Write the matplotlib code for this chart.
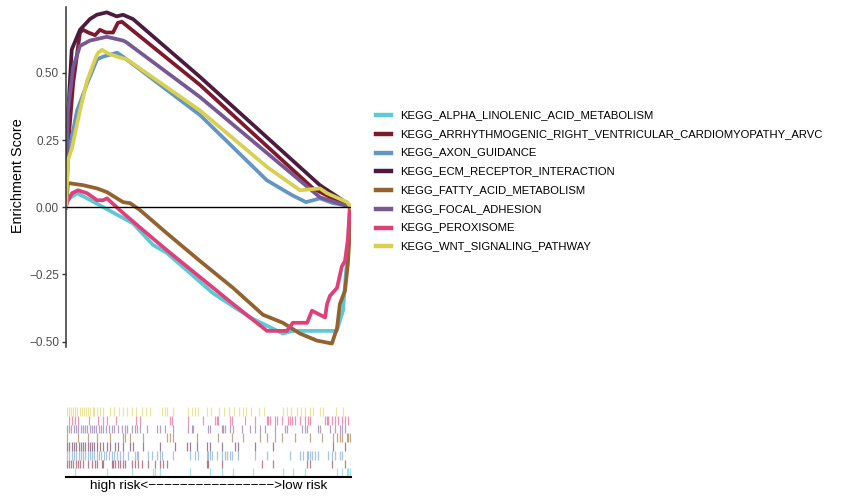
import matplotlib
matplotlib.use('Agg')
import matplotlib.pyplot as plt
from matplotlib.lines import Line2D

plt.rcParams['font.family'] = ['Liberation Sans', 'DejaVu Sans']

# gene sets, in legend order (also drawing order)
gene_sets = ['KEGG_ALPHA_LINOLENIC_ACID_METABOLISM',
             'KEGG_ARRHYTHMOGENIC_RIGHT_VENTRICULAR_CARDIOMYOPATHY_ARVC',
             'KEGG_AXON_GUIDANCE',
             'KEGG_ECM_RECEPTOR_INTERACTION',
             'KEGG_FATTY_ACID_METABOLISM',
             'KEGG_FOCAL_ADHESION',
             'KEGG_PEROXISOME',
             'KEGG_WNT_SIGNALING_PATHWAY']
colors = ['#5BCAD6', '#7E1A2E', '#6496C4', '#4B1C3F',
          '#93622F', '#765893', '#E0407A', '#D8D050']

# running enrichment score, x = position in ranked list (%)
alpha_x = [0, 0.2, 3.9, 7.4, 11.9, 23.5, 30.5, 35.4, 51.6, 64.6, 76.1, 79.6, 95, 97.2, 98.9, 99.6, 100]
alpha_y = [0, 0.026, 0.052, 0.033, 0.007, -0.06, -0.14, -0.17, -0.32, -0.41, -0.47, -0.46, -0.46, -0.385, -0.15, 0, 0]

arvc_x = [0, 0.8, 2.5, 4.9, 6, 7.8, 10.2, 11.9, 14, 16.5, 18.2, 19.6, 47, 86.7, 96, 100]
arvc_y = [0, 0.24, 0.46, 0.65, 0.66, 0.65, 0.64, 0.66, 0.65, 0.65, 0.686, 0.69, 0.455, 0.07, 0.02, 0]

axon_x = [0, 0.7, 3.9, 7.4, 10.9, 13, 17.9, 20, 47, 70.5, 79.3, 84.2, 89.1, 93.7, 98.6, 100]
axon_y = [0, 0.19, 0.36, 0.46, 0.55, 0.56, 0.575, 0.56, 0.343, 0.10, 0.045, 0.019, 0.033, 0.015, 0.007, 0]

ecm_x = [0, 0.5, 2, 4.9, 8.4, 10.8, 14.3, 17.8, 20, 23.5, 47, 89.1, 97.9, 100]
ecm_y = [0, 0.30, 0.586, 0.66, 0.70, 0.716, 0.725, 0.71, 0.716, 0.70, 0.485, 0.082, 0.02, 0]

fatty_x = [0, 0.7, 6, 10.9, 14.4, 20, 22.5, 26, 35.4, 47, 58.6, 69.1, 76.1, 82.1, 88, 93.3, 95.1, 96.1, 97.9, 98.9, 99.6, 100]
fatty_y = [0, 0.09, 0.082, 0.07, 0.056, 0.019, 0.015, -0.011, -0.097, -0.2, -0.30, -0.40, -0.43, -0.47, -0.496, -0.507, -0.45, -0.36, -0.31, -0.21, -0.086, 0]

focal_x = [0, 0.7, 2.5, 4.9, 8.4, 14.3, 20, 21, 47, 89.1, 97, 100]
focal_y = [0, 0.36, 0.52, 0.60, 0.62, 0.634, 0.62, 0.615, 0.41, 0.037, 0.01, 0]

perox_x = [0, 0.4, 2.1, 4.2, 7.4, 10.9, 13, 14.4, 18.9, 25.9, 35.4, 47, 58.6, 70.5, 77.5, 79.6, 84.6, 86.3, 90.9, 91.6, 92.6, 95.1, 96.8, 97.9, 98.9, 99.6, 100]
perox_y = [0, 0.02, 0.052, 0.063, 0.052, 0.026, 0.026, 0.033, -0.011, -0.075, -0.16, -0.26, -0.36, -0.46, -0.46, -0.43, -0.43, -0.385, -0.41, -0.36, -0.33, -0.30, -0.22, -0.2, -0.12, 0, 0]

wnt_x = [0, 0.7, 2.1, 4.9, 7.4, 10.2, 11.2, 12.6, 14.4, 17.9, 21.4, 47, 70.5, 82.1, 89.1, 91.6, 98.6, 100]
wnt_y = [0, 0.175, 0.22, 0.36, 0.47, 0.55, 0.574, 0.586, 0.574, 0.56, 0.55, 0.36, 0.15, 0.063, 0.07, 0.052, 0.019, 0]

# hit positions for the rug (%)
alpha_hits = [3.2, 14.3, 23, 30.6, 31.2, 33, 43.5, 50.5, 54.6, 58.7, 65.7, 76.2, 79.7, 83.9,
              95, 96.7, 98.5, 99, 99.6]
arvc_hits = [0.3, 1, 1.8, 2.6, 3.4, 4.2, 5, 5.8, 7.8, 9, 10.2, 10.8, 12.5, 13.1, 16, 16.6, 17.2,
             18.4, 18.9, 20.1, 20.7, 23, 24.2, 25.4, 26.6, 28.9, 31.2, 33, 34.1, 35.3, 49.4,
             49.9, 54.6, 68.7, 72.7, 84.4, 85.6, 93.2, 97.9]
axon_hits = [0.3, 1.2, 2, 2.8, 3.6, 4.4, 5.2, 6, 6.8, 7.6, 8.4, 9.2, 10, 10.8, 11.6, 12.4, 13.2,
             14, 15, 16, 17, 18, 19, 20, 21.9, 24.2, 24.8, 25.4, 28.9, 30.1, 31.8, 33, 33.6,
             37.6, 43.5, 45.3, 46.4, 49.4, 49.9, 50.5, 51.1, 52.9, 54.6, 55.8, 56.4, 57.5,
             58.1, 60.5, 66.3, 70.4, 78.6, 82.1, 83.3, 84.4, 85, 85.6, 86.2, 87.4, 88.5, 92,
             93.2, 94.4, 96.1, 96.7]
ecm_hits = [0.3, 1.2, 2, 2.8, 3.6, 4.4, 5.2, 6, 6.8, 7.6, 8.4, 9.2, 10, 11, 12, 13, 14.3, 15.4,
            17.2, 18.4, 20.1, 22.5, 23.6, 27.1, 33, 38.2, 42.3, 43.5, 45.9, 49.4, 50.5, 54.6,
            59.3, 60.5, 66.3, 72.7, 93.8, 97.9]
fatty_hits = [0.5, 4.3, 7.8, 10.8, 15.4, 20.1, 20.7, 22.5, 27.1, 35.3, 36.5, 37.6, 45.9, 53.4,
              58.1, 62.2, 68.1, 70.4, 73.3, 75.7, 80.4, 85.6, 89.7, 93.8, 95, 96.1, 96.7,
              98.5, 99, 99.6]
focal_hits = [0.3, 1.1, 1.9, 2.7, 3.5, 4.3, 5.1, 5.9, 6.7, 7.5, 8.3, 9.1, 9.9, 10.7, 11.5,
              12.3, 13.1, 14, 15, 16, 17, 18.2, 19.5, 20.7, 21.3, 23, 24.2, 24.8, 26, 28.3,
              31.8, 33, 34.7, 37.6, 42.9, 44.1, 44.7, 49.9, 50.5, 54.6, 55.2, 55.8, 57.5,
              58.7, 61.6, 64.6, 66.3, 68.1, 69.8, 73.3, 76.8, 77.4, 82.7, 83.9, 84.4, 88.5,
              89.1, 92.6, 94.4, 96.1, 96.7, 97.9]
perox_hits = [1.2, 2, 3.2, 4.3, 8.2, 11.3, 13.1, 14.3, 17.5, 24.6, 26, 36.5, 37.1, 42.9, 48.2,
              52.3, 52.9, 53.4, 57.5, 58.1, 62.8, 66.3, 70.4, 71, 71.6, 73.3, 73.9, 75.7, 78,
              78.6, 79.2, 80.4, 82.1, 83.9, 85, 85.6, 90.9, 91.5, 92, 93.2, 94.4, 95.5, 96.7,
              97.9, 99]
wnt_hits = [0.3, 1, 1.8, 2.5, 3.3, 4, 4.8, 5.5, 6.3, 7, 7.8, 8.5, 9.3, 10, 11, 12, 13, 15.4,
            16.8, 18.6, 20, 21.4, 23.2, 24.6, 26.7, 28, 29.5, 33.7, 34.7, 35.4, 37.5, 42.8,
            44.2, 45.3, 46.3, 49.5, 50.9, 53.7, 55.4, 57.2, 58.9, 60.7, 62.1, 63.2, 64.9,
            67.7, 69.5, 76, 77.5, 79, 81, 82.5, 84, 85.6, 86.7, 89, 90.2, 94.7, 97.2]

curves = [(alpha_x, alpha_y), (arvc_x, arvc_y), (axon_x, axon_y), (ecm_x, ecm_y),
          (fatty_x, fatty_y), (focal_x, focal_y), (perox_x, perox_y), (wnt_x, wnt_y)]
hits = [alpha_hits, arvc_hits, axon_hits, ecm_hits, fatty_hits, focal_hits, perox_hits, wnt_hits]

W, H = 845, 496
fig = plt.figure(figsize=(W / 100, H / 100), dpi=100)

# running ES panel
ax = fig.add_axes([66 / W, 1 - 347 / H, 285 / W, 340.3 / H])
for (x, y), c in zip(curves, colors):
    ax.plot(x, y, color=c, lw=2.7, solid_joinstyle='round')
ax.axhline(0, color='black', lw=1.0)
ax.set_xlim(0, 100)
ax.set_ylim(-0.52, 0.746)
ax.set_yticks([-0.5, -0.25, 0, 0.25, 0.5])
ax.set_yticklabels(['\u22120.50', '\u22120.25', '0.00', '0.25', '0.50'])
ax.tick_params(axis='y', length=3, width=1, color='#333333', labelcolor='#4D4D4D',
               labelsize=8.5, pad=2)
ax.set_xticks([])
for s in ['top', 'right', 'bottom']:
    ax.spines[s].set_visible(False)
ax.spines['left'].set_color('#333333')
ax.spines['left'].set_linewidth(1.1)
ax.patch.set_alpha(0)

fig.text(18 / W, 1 - 176 / H, 'Enrichment Score', rotation=90, ha='center', va='center',
         fontsize=10.4, color='black')

# rug panel
rug = fig.add_axes([66 / W, 1 - 477 / H, 285 / W, 70 / H])
for i, (h, c) in enumerate(zip(hits, colors)):
    rug.vlines(h, i, i + 1, color=c, lw=0.9, alpha=0.55)
rug.set_xlim(0, 100)
rug.set_ylim(0, len(hits))
rug.set_xticks([])
rug.set_yticks([])
for s in ['top', 'right', 'left']:
    rug.spines[s].set_visible(False)
rug.spines['bottom'].set_color('black')
rug.spines['bottom'].set_linewidth(1.5)

fig.text(208.5 / W, 1 - 486 / H, 'high risk<' + '\u2212' * 16 + '>low risk',
         ha='center', va='center', fontsize=9.7, color='black')

# legend
for k, (name, c) in enumerate(zip(gene_sets, colors)):
    yk = 1 - (115 + 18.76 * k) / H
    fig.add_artist(Line2D([376 / W, 391 / W], [yk, yk], color=c, lw=3.2,
                          transform=fig.transFigure))
    fig.text(400 / W, yk, name, ha='left', va='center', fontsize=8.1, color='black')

fig.savefig('out.png', dpi=100)
